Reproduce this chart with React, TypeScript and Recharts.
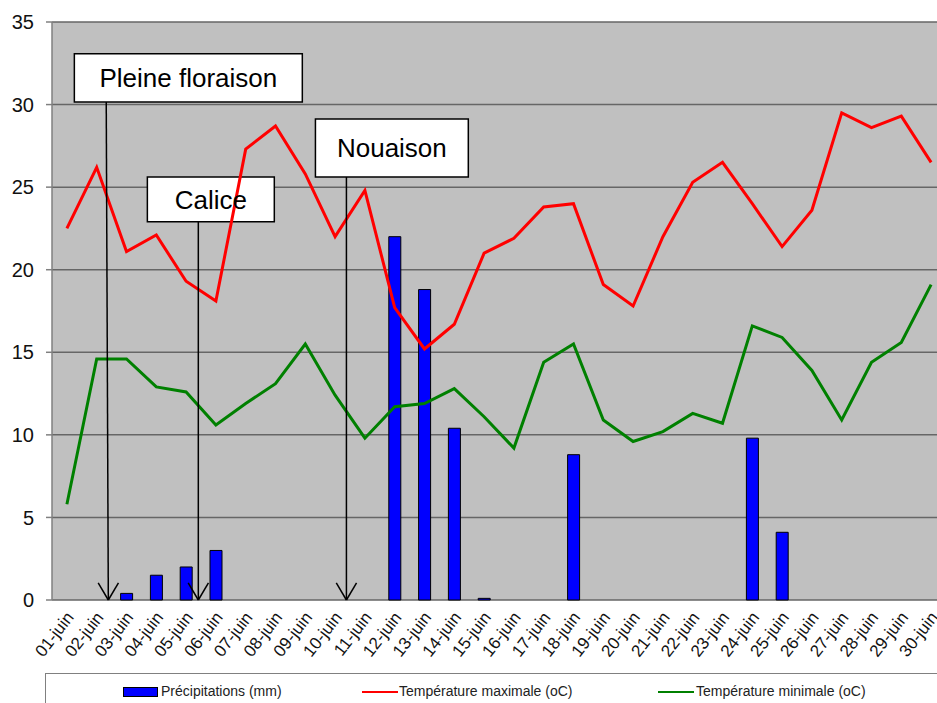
import React from 'react';
import {
  ComposedChart,
  Bar,
  Line,
  XAxis,
  YAxis,
  CartesianGrid,
  ReferenceArea,
  ReferenceLine,
  Legend,
} from 'recharts';

// ---------- data ----------
const days = [
  '01-juin', '02-juin', '03-juin', '04-juin', '05-juin', '06-juin', '07-juin', '08-juin', '09-juin', '10-juin',
  '11-juin', '12-juin', '13-juin', '14-juin', '15-juin', '16-juin', '17-juin', '18-juin', '19-juin', '20-juin',
  '21-juin', '22-juin', '23-juin', '24-juin', '25-juin', '26-juin', '27-juin', '28-juin', '29-juin', '30-juin',
];

const precipitations = [
  0, 0, 0.4, 1.5, 2.0, 3.0, 0, 0, 0, 0,
  0, 22.0, 18.8, 10.4, 0.1, 0, 0, 8.8, 0, 0,
  0, 0, 0, 9.8, 4.1, 0, 0, 0, 0, 0,
];

const tempMax = [
  22.5, 26.2, 21.1, 22.1, 19.3, 18.1, 27.3, 28.7, 25.8, 22.0,
  24.8, 17.7, 15.2, 16.7, 21.0, 21.9, 23.8, 24.0, 19.1, 17.8,
  22.0, 25.3, 26.5, 24.0, 21.4, 23.6, 29.5, 28.6, 29.3, 26.5,
];

const tempMin = [
  5.8, 14.6, 14.6, 12.9, 12.6, 10.6, 11.9, 13.1, 15.5, 12.4,
  9.8, 11.7, 11.9, 12.8, 11.1, 9.2, 14.4, 15.5, 10.9, 9.6,
  10.2, 11.3, 10.7, 16.6, 15.9, 13.9, 10.9, 14.4, 15.6, 19.1,
];

const yTicks = [0, 5, 10, 15, 20, 25, 30, 35];

const stageLabels = ['Pleine floraison', 'Calice', 'Nouaison'];

// ---------- derived ----------
const data = days.map((day, i) => ({
  x: i + 1,
  day,
  precip: precipitations[i],
  tmax: tempMax[i],
  tmin: tempMin[i],
}));

const centerTicks = days.map((_, i) => i + 1);
const boundaryTicks = [...days.map((_, i) => i + 0.5), days.length + 0.5];

// annotation placement in data coordinates (x: day index, y: axis value)
const stages = [
  { label: stageLabels[0], box: [1.25, 8.9, 30.16, 33.07], arrowTop: 2.32, arrowBottom: 2.39 },
  { label: stageLabels[1], box: [3.7, 7.96, 22.9, 25.62], arrowTop: 5.41, arrowBottom: 5.41 },
  { label: stageLabels[2], box: [9.34, 14.47, 25.62, 29.13], arrowTop: 10.38, arrowBottom: 10.38 },
];

const FONT = '"Liberation Sans", Arial, sans-serif';

const DayTick = (props: any) => {
  const { x, y, payload } = props;
  const label = days[payload.value - 1] ?? '';
  const tx = x + 3;
  const ty = y + 14;
  return (
    <text
      x={tx}
      y={ty}
      dy="0.35em"
      textAnchor="end"
      fontSize={17}
      fill="#111"
      fontFamily={FONT}
      transform={`rotate(-52, ${tx}, ${ty})`}
    >
      {label}
    </text>
  );
};

const LegendBox = () => (
  <div
    style={{
      position: 'relative',
      width: 900,
      height: 45,
      borderTop: '1px solid #808080',
      borderLeft: '1px solid #808080',
      boxSizing: 'border-box',
      background: '#fff',
      fontFamily: FONT,
      fontSize: 14,
      color: '#222',
    }}
  >
    <div style={{ position: 'absolute', left: 77, top: 13, width: 33, height: 8, background: '#0000FF', border: '1px solid #000' }} />
    <div style={{ position: 'absolute', left: 115, top: 8, lineHeight: '18px' }}>Précipitations (mm)</div>
    <div style={{ position: 'absolute', left: 316, top: 17, width: 36, height: 2, background: '#FF0000' }} />
    <div style={{ position: 'absolute', left: 353, top: 8, lineHeight: '18px' }}>Température maximale (oC)</div>
    <div style={{ position: 'absolute', left: 612, top: 17, width: 36, height: 2, background: '#008000' }} />
    <div style={{ position: 'absolute', left: 650, top: 8, lineHeight: '18px' }}>Température minimale (oC)</div>
  </div>
);

export default function App() {
  return (
    <div
      style={{
        position: 'fixed',
        left: 0,
        top: 0,
        width: 937,
        height: 703,
        overflow: 'hidden',
        background: '#fff',
      }}
    >
      <ComposedChart
        width={950}
        height={703}
        data={data}
        margin={{ top: 22, right: 4, bottom: 0, left: 0 }}
        style={{ fontFamily: FONT }}
      >
        <CartesianGrid
          xAxisId="grid"
          yAxisId="y"
          vertical={false}
          stroke="#666666"
          strokeWidth={1.5}
          fill="#C0C0C0"
          fillOpacity={1}
        />
        <XAxis
          xAxisId="grid"
          type="number"
          dataKey="x"
          domain={[0.5, 30.5]}
          ticks={boundaryTicks}
          interval={0}
          height={0}
          tickSize={6}
          tickFormatter={() => ''}
          axisLine={{ stroke: '#808080', strokeWidth: 1.5 }}
          tickLine={{ stroke: '#808080', strokeWidth: 1.5 }}
          allowDataOverflow
        />
        <XAxis
          xAxisId="main"
          type="number"
          dataKey="x"
          domain={[0.5, 30.5]}
          ticks={centerTicks}
          interval={0}
          height={58}
          tickSize={0}
          tickMargin={0}
          axisLine={false}
          tickLine={false}
          tick={<DayTick />}
          allowDataOverflow
        />
        <YAxis
          yAxisId="y"
          domain={[0, 35]}
          ticks={yTicks}
          interval={0}
          width={52}
          tickSize={6}
          tickMargin={12}
          tick={{ fontSize: 20, fill: '#111', fontFamily: FONT }}
          axisLine={{ stroke: '#808080', strokeWidth: 1.5 }}
          tickLine={{ stroke: '#808080', strokeWidth: 1.5 }}
        />
        <Legend
          verticalAlign="bottom"
          content={() => <LegendBox />}
          wrapperStyle={{ position: 'absolute', left: 45, top: 673, width: 900, height: 45 }}
        />
        <Bar
          xAxisId="main"
          yAxisId="y"
          dataKey="precip"
          name="Précipitations (mm)"
          fill="#0000FF"
          stroke="#000"
          strokeWidth={1}
          barSize={12}
          isAnimationActive={false}
        />
        <Line
          xAxisId="main"
          yAxisId="y"
          type="linear"
          dataKey="tmax"
          name="Température maximale (oC)"
          stroke="#FF0000"
          strokeWidth={3}
          dot={false}
          activeDot={false}
          isAnimationActive={false}
        />
        <Line
          xAxisId="main"
          yAxisId="y"
          type="linear"
          dataKey="tmin"
          name="Température minimale (oC)"
          stroke="#008000"
          strokeWidth={3}
          dot={false}
          activeDot={false}
          isAnimationActive={false}
        />
        {stages.map((s) => (
          <ReferenceLine
            key={s.label + '-stem'}
            xAxisId="main"
            yAxisId="y"
            segment={[
              { x: s.arrowTop, y: s.box[2] },
              { x: s.arrowBottom, y: 0 },
            ]}
            stroke="#000"
            strokeWidth={1.5}
            ifOverflow="visible"
          />
        ))}
        {stages.map((s) => (
          <ReferenceLine
            key={s.label + '-left'}
            xAxisId="main"
            yAxisId="y"
            segment={[
              { x: s.arrowBottom - 0.34, y: 1.03 },
              { x: s.arrowBottom, y: 0 },
            ]}
            stroke="#000"
            strokeWidth={1.5}
            ifOverflow="visible"
          />
        ))}
        {stages.map((s) => (
          <ReferenceLine
            key={s.label + '-right'}
            xAxisId="main"
            yAxisId="y"
            segment={[
              { x: s.arrowBottom + 0.34, y: 1.03 },
              { x: s.arrowBottom, y: 0 },
            ]}
            stroke="#000"
            strokeWidth={1.5}
            ifOverflow="visible"
          />
        ))}
        {stages.map((s) => (
          <ReferenceArea
            key={s.label + '-box'}
            xAxisId="main"
            yAxisId="y"
            x1={s.box[0]}
            x2={s.box[1]}
            y1={s.box[2]}
            y2={s.box[3]}
            fill="#FFFFFF"
            fillOpacity={1}
            stroke="#000"
            strokeWidth={1.5}
            ifOverflow="visible"
            label={{ value: s.label, position: 'center', fill: '#000', fontSize: 26, fontFamily: FONT }}
          />
        ))}
      </ComposedChart>
    </div>
  );
}
